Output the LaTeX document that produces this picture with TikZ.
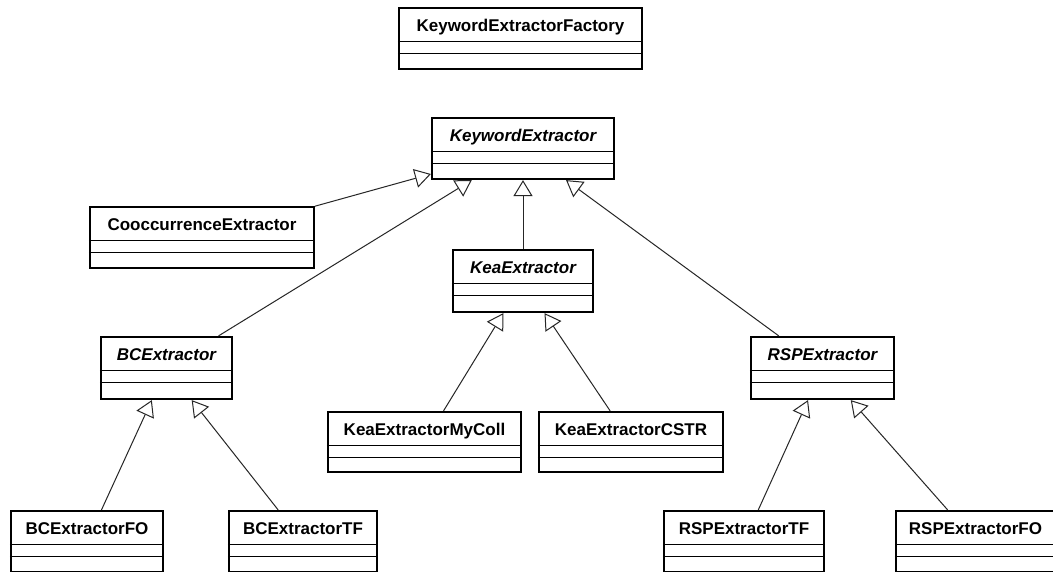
\documentclass[tikz,border=0pt]{standalone}
\usepackage{fontspec}
\setmainfont{Liberation Sans}
\usetikzlibrary{arrows.meta}
\tikzset{
  cls/.style={draw=black, line width=2.2pt, fill=white, inner sep=0pt, rectangle},
  divider/.style={line width=1.1pt},
  clsname/.style={anchor=base, inner sep=0pt, font=\fontsize{17}{20}\selectfont\bfseries},
  absname/.style={anchor=base, inner sep=0pt, font=\fontsize{17}{20}\selectfont\bfseries\itshape},
  gen/.style={line width=1pt, draw=black!85, -{Triangle[length=16pt, width=19pt, fill=white, line width=1pt]}},
}
\newcommand{\umlcls}[7]{%
  \pgfmathsetmacro{\clsw}{#4-#2}%
  \pgfmathsetmacro{\clsh}{#5-#3}%
  \pgfmathsetmacro{\clsx}{(#2+#4)/2}%
  \pgfmathsetmacro{\clsy}{(#3+#5)/2}%
  \node[cls, minimum width=\clsw pt, minimum height=\clsh pt] (#1) at (\clsx,\clsy) {};
  \draw[divider] ([yshift=-35pt]#1.north west) -- ([yshift=-35pt]#1.north east);
  \draw[divider] ([yshift=-46.5pt]#1.north west) -- ([yshift=-46.5pt]#1.north east);
  \node[#6] (#1-name) at ([yshift=-25pt]#1.north) {#7};
}
\begin{document}
\begin{tikzpicture}[x=1pt,y=-1pt]
\useasboundingbox (0,0) rectangle (1053,571);
\clip (0,0) rectangle (1053,571);
\fill[white] (0,0) rectangle (1053,571);
\umlcls{factory}{399}{8}{642}{69}{clsname}{KeywordExtractorFactory}
\umlcls{ke}{432}{118}{614}{179}{absname}{KeywordExtractor}
\umlcls{cooc}{90}{207}{314}{268}{clsname}{CooccurrenceExtractor}
\umlcls{kea}{453}{250}{593}{312}{absname}{KeaExtractor}
\umlcls{bc}{101}{337}{232}{399}{absname}{BCExtractor}
\umlcls{rsp}{751}{337}{894}{399}{absname}{RSPExtractor}
\umlcls{mycoll}{328}{412}{521}{472}{clsname}{KeaExtractorMyColl}
\umlcls{cstr}{539}{412}{723}{472}{clsname}{KeaExtractorCSTR}
\umlcls{bcfo}{11}{511}{163}{572}{clsname}{BCExtractorFO}
\umlcls{bctf}{229}{511}{377}{572}{clsname}{BCExtractorTF}
\umlcls{rsptf}{664}{511}{824}{572}{clsname}{RSPExtractorTF}
\umlcls{rspfo}{896}{511}{1055}{572}{clsname}{RSPExtractorFO}
\draw[gen] (cooc) -- (ke);
\draw[gen] (bc) -- (ke);
\draw[gen] (kea) -- (ke);
\draw[gen] (rsp) -- (ke);
\draw[gen] (mycoll) -- (kea);
\draw[gen] (cstr) -- (kea);
\draw[gen] (bcfo) -- (bc);
\draw[gen] (bctf) -- (bc);
\draw[gen] (rsptf) -- (rsp);
\draw[gen] (rspfo) -- (rsp);
\end{tikzpicture}
\end{document}
